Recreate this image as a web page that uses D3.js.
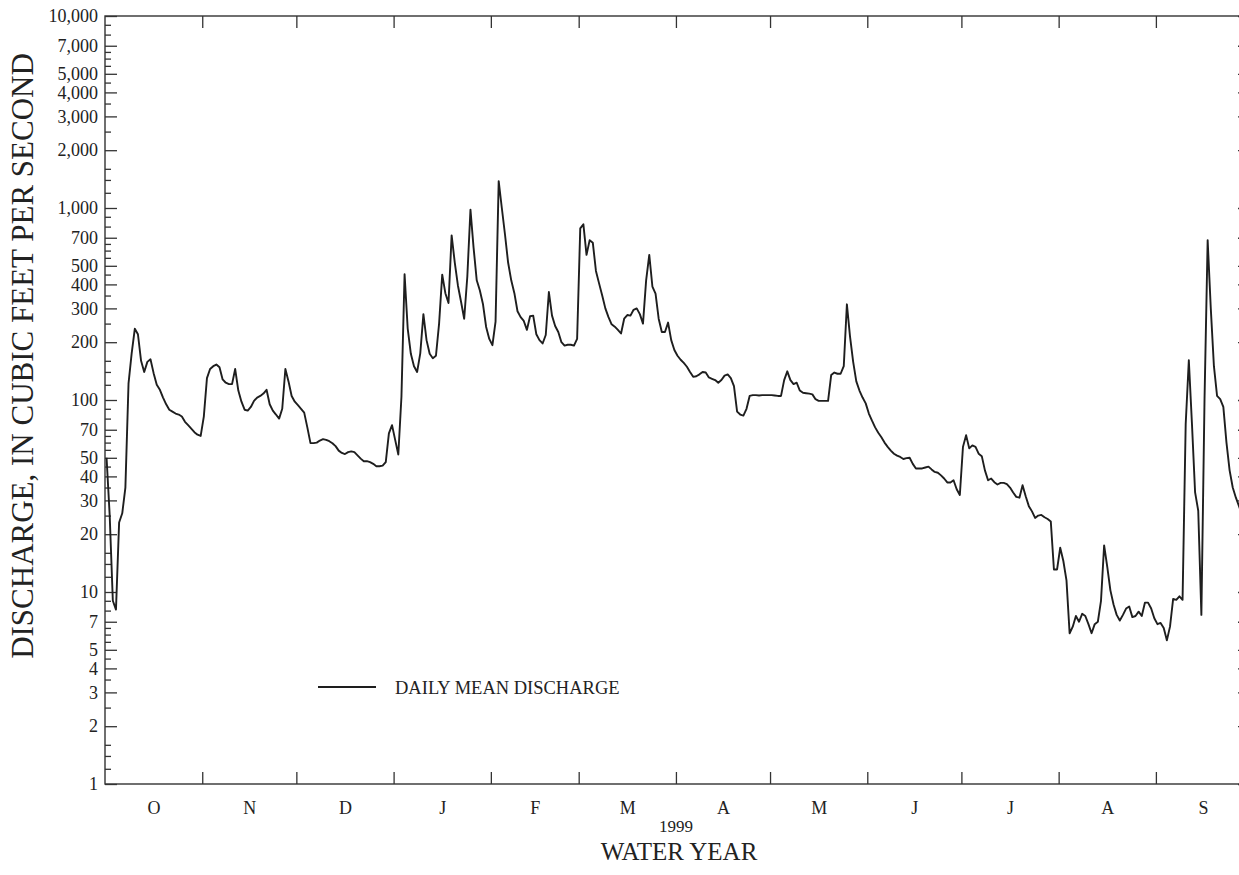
<!DOCTYPE html>
<html>
<head>
<meta charset="utf-8">
<script src="https://cdn.jsdelivr.net/npm/d3@7"></script>
<style>
  html, body { margin: 0; padding: 0; background: #fff; }
  svg { display: block; }
  text { font-family: "Liberation Serif", "Times New Roman", serif; fill: #222; }
</style>
</head>
<body>
<svg id="chart" width="1239" height="875"></svg>
<script>
// ---- Data (water year 1999, daily mean discharge, cubic feet per second) ----
const monthLabels = ["O", "N", "D", "J", "F", "M", "A", "M", "J", "J", "A", "S"];
const yearLabel = "1999";
const majorTicks = [1, 2, 3, 4, 5, 7, 10, 20, 30, 40, 50, 70, 100, 200, 300, 400, 500, 700,
                    1000, 2000, 3000, 4000, 5000, 7000, 10000];
const minorMultipliers = [1.2, 1.4, 1.6, 2.5, 3.5, 4.5, 5.5, 6, 6.5, 8, 9];
const decades = [1, 10, 100, 1000];

const octValues = [50, 25, 9, 8.1, 23, 25.7, 35, 122, 175, 235, 220, 160, 140, 158, 163, 138, 120, 113, 103, 95, 89, 87, 85, 84, 82, 77, 74, 71, 68, 66, 65];
const novValues = [82, 130, 145, 150, 153, 148, 128, 123, 121, 121, 145, 112, 98, 89, 88, 92, 99, 103, 105, 108, 113, 95, 88, 84, 80, 90, 145, 125, 105, 98];
const decValues = [94, 90, 86, 72, 59.6, 59.6, 60, 61.5, 62.5, 62, 61, 59.5, 57.5, 54.5, 53, 52.3, 53.5, 54, 53.5, 51.5, 49.5, 48, 48, 47.5, 46.5, 45.2, 45.2, 45.5, 47.5, 67, 74];
const janValues = [62, 52, 104, 452, 235, 174, 150, 140, 175, 280, 205, 174, 165, 170, 250, 450, 360, 320, 720, 520, 395, 325, 265, 440, 980, 620, 420, 372, 315, 240, 208];
const febValues = [193, 256, 1380, 1000, 730, 520, 420, 360, 290, 270, 258, 232, 273, 275, 220, 205, 197, 218, 365, 275, 243, 226, 200, 192, 194, 194, 192, 208];
const marValues = [783, 822, 570, 680, 660, 470, 405, 350, 300, 270, 248, 241, 232, 222, 265, 277, 275, 295, 300, 280, 250, 420, 570, 390, 358, 265, 226, 226, 253, 205, 182];
const aprValues = [170, 162, 156, 149, 140, 132, 133, 136, 140, 139, 131, 129, 127, 123, 127, 134, 136, 130, 118, 87, 84, 83, 90, 105, 106, 106, 105.5, 106, 106, 106];
const mayValues = [106, 105.5, 105, 105, 127, 141, 127, 121, 123, 112, 109, 108.5, 108, 107, 101, 99, 99, 99, 99, 135, 139, 137, 137, 150, 315, 214, 158, 125, 112, 103, 96];
const junValues = [85, 78, 72, 67.5, 64, 60, 57, 54.5, 52.5, 51.3, 50.5, 49.3, 49.8, 50, 46.5, 44, 44, 44, 44.5, 45, 43.5, 42.2, 41.8, 40.5, 39, 37.2, 37.2, 38.2, 34.3, 32];
const julValues = [57, 65.6, 56, 58, 57, 52.5, 51, 43, 38.2, 39, 37.3, 36.3, 37, 37, 36.5, 35, 33, 31.3, 31, 36, 31.5, 28, 26.3, 24.3, 25, 25.2, 24.5, 24, 23.3, 13.1, 13.1];
const augValues = [17, 14.5, 11.5, 6.1, 6.6, 7.5, 7, 7.7, 7.5, 6.8, 6.1, 6.8, 7, 9, 17.5, 13.5, 10.2, 8.6, 7.6, 7.1, 7.6, 8.2, 8.4, 7.4, 7.5, 7.9, 7.5, 8.8, 8.8, 8.2, 7.3];
const sepValues = [6.8, 6.9, 6.5, 5.6, 6.6, 9.2, 9.1, 9.5, 9.1, 75, 161, 75, 33, 26.5, 7.6, 100, 680, 300, 150, 105, 101, 92, 60, 43, 35, 31, 28, 25, 24, 23];

const dailyDischarge = [].concat(octValues, novValues, decValues, janValues, febValues, marValues,
  aprValues, mayValues, junValues, julValues, augValues, sepValues);

// ---- Layout ----
const svg = d3.select("#chart");
const plotLeft = 105, plotRight = 1250, plotTop = 16, plotBottom = 784;
const DAY = 86400000;
const wyStart = Date.UTC(1998, 9, 1), wyEnd = Date.UTC(1999, 9, 1);

const x = d3.scaleUtc().domain([new Date(wyStart), new Date(wyEnd)]).range([plotLeft, plotRight]);
const y = d3.scaleLog().domain([1, 10000]).range([plotBottom, plotTop]);

const monthStarts = d3.utcMonth.range(new Date(wyStart), new Date(wyEnd + 1));
const monthMids = monthStarts.slice(0, 12).map((d, i) =>
  new Date((d.getTime() + monthStarts[i + 1].getTime()) / 2));

const minorTicks = [];
decades.forEach(dc => minorMultipliers.forEach(m => minorTicks.push(dc * m)));

const axisColor = "#333";
const fmt = d3.format(",");
const serif = "'Liberation Serif', 'Times New Roman', serif";

function styleAxis(g) {
  g.select(".domain").remove();
  g.selectAll(".tick line").attr("stroke", axisColor).attr("stroke-width", 1.3);
  g.selectAll("text").attr("fill", "#222");
}

// Frame
svg.append("rect")
  .attr("x", plotLeft).attr("y", plotTop)
  .attr("width", plotRight - plotLeft).attr("height", plotBottom - plotTop)
  .attr("fill", "none").attr("stroke", axisColor).attr("stroke-width", 1.4);

// Left axis: major with labels
svg.append("g").attr("transform", `translate(${plotLeft},0)`)
  .call(d3.axisLeft(y).tickValues(majorTicks).tickSizeInner(-12).tickSizeOuter(0)
        .tickPadding(7).tickFormat(fmt))
  .call(styleAxis)
  .call(g => g.selectAll("text").attr("font-size", 18).attr("font-family", serif));

// Left axis: minor
svg.append("g").attr("transform", `translate(${plotLeft},0)`)
  .call(d3.axisLeft(y).tickValues(minorTicks).tickSizeInner(-6).tickSizeOuter(0).tickFormat(""))
  .call(styleAxis);

// Right axis: major + minor (inward)
svg.append("g").attr("transform", `translate(${plotRight},0)`)
  .call(d3.axisRight(y).tickValues(majorTicks).tickSizeInner(-12).tickSizeOuter(0).tickFormat(""))
  .call(styleAxis);
svg.append("g").attr("transform", `translate(${plotRight},0)`)
  .call(d3.axisRight(y).tickValues(minorTicks).tickSizeInner(-6).tickSizeOuter(0).tickFormat(""))
  .call(styleAxis);

// Bottom axis: month boundary ticks (inward)
svg.append("g").attr("transform", `translate(0,${plotBottom})`)
  .call(d3.axisBottom(x).tickValues(monthStarts.slice(1, 12)).tickSizeInner(-12).tickSizeOuter(0).tickFormat(""))
  .call(styleAxis);

// Top axis: month boundary ticks (inward)
svg.append("g").attr("transform", `translate(0,${plotTop})`)
  .call(d3.axisTop(x).tickValues(monthStarts.slice(1, 12)).tickSizeInner(-12).tickSizeOuter(0).tickFormat(""))
  .call(styleAxis);

// Month labels
svg.append("g").attr("transform", `translate(0,${plotBottom})`)
  .call(d3.axisBottom(x).tickValues(monthMids).tickSize(0).tickPadding(17)
        .tickFormat((d, i) => monthLabels[i]))
  .call(g => g.select(".domain").remove())
  .call(g => g.selectAll("text").attr("font-size", 18).attr("fill", "#222").attr("font-family", serif));

// Year label
svg.append("text")
  .attr("x", x(new Date(Date.UTC(1999, 3, 1)))).attr("y", 832)
  .attr("text-anchor", "middle").attr("font-size", 17)
  .text(yearLabel);

// Axis titles
svg.append("text")
  .attr("x", 679).attr("y", 860)
  .attr("text-anchor", "middle").attr("font-size", 25)
  .text("WATER YEAR");

svg.append("text")
  .attr("transform", "translate(32.5,356) rotate(-90)")
  .attr("text-anchor", "middle").attr("font-size", 31)
  .text("DISCHARGE, IN CUBIC FEET PER SECOND");

// Data line
const line = d3.line()
  .x((d, i) => x(new Date(wyStart + i * DAY + DAY / 2)))
  .y(d => y(d));

svg.append("path")
  .datum(dailyDischarge)
  .attr("fill", "none")
  .attr("stroke", "#1e1e1e")
  .attr("stroke-width", 1.9)
  .attr("stroke-linejoin", "round")
  .attr("d", line);

// Legend
svg.append("line")
  .attr("x1", 318).attr("x2", 376).attr("y1", 687).attr("y2", 687)
  .attr("stroke", "#1e1e1e").attr("stroke-width", 1.9);
svg.append("text")
  .attr("x", 395).attr("y", 693.5)
  .attr("font-size", 18.5)
  .text("DAILY MEAN DISCHARGE");
</script>
</body>
</html>
